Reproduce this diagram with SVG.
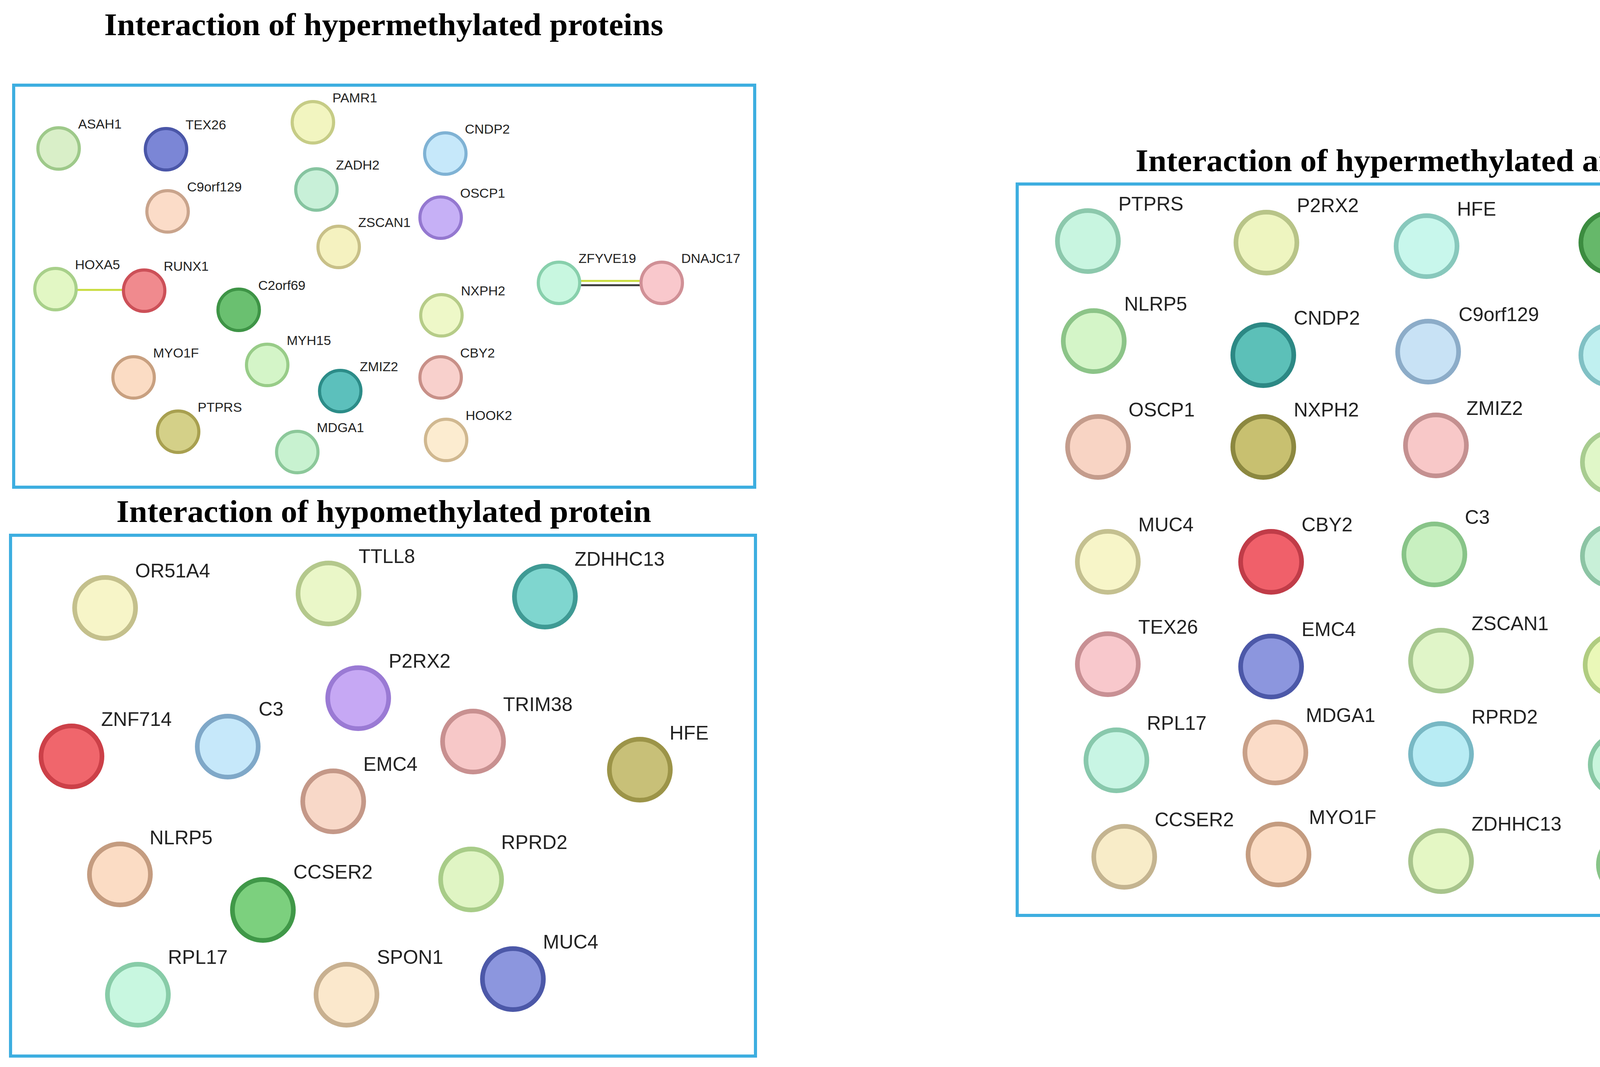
<svg xmlns="http://www.w3.org/2000/svg" width="5430" height="2731" viewBox="0 0 5430 2731">
<style>
.title{font-family:"Liberation Serif",serif;font-weight:bold;font-size:80px;fill:#000}
.box{fill:none;stroke:#3daee0;stroke-width:8}
.s{font-family:"Liberation Sans",Arial,sans-serif;font-size:34px;fill:#222}
.l{font-family:"Liberation Sans",Arial,sans-serif;font-size:50px;fill:#222}
.n1 circle{stroke-width:8}
.n2 circle{stroke-width:12}
.yg{stroke:#c8dc3c;fill:none}
.dk{stroke:#3a3a3a;fill:none}
</style>
<rect width="5430" height="2731" fill="#fff"/>
<text class="title" x="267" y="90" textLength="1431" lengthAdjust="spacingAndGlyphs">Interaction of hypermethylated proteins</text>
<text class="title" x="298" y="1336" textLength="1369" lengthAdjust="spacingAndGlyphs">Interaction of hypomethylated protein</text>
<text class="title" x="2907" y="438" textLength="2190" lengthAdjust="spacingAndGlyphs">Interaction of hypermethylated and hypomethylated proteins</text>
<rect class="box" x="35" y="218" width="1897" height="1029"/>
<rect class="box" x="27" y="1370" width="1907" height="1333"/>
<rect class="box" x="2604" y="471" width="2791" height="1872"/>
<g id="connectors">
<line class="yg" stroke-width="5" x1="195" y1="742" x2="316" y2="742"/>
<line class="yg" stroke-width="5" x1="1484" y1="719" x2="1641" y2="719"/>
<line class="dk" stroke-width="5" x1="1484" y1="730" x2="1641" y2="730"/>
<line class="yg" stroke-width="6" x1="4681" y1="1738" x2="4948" y2="1733"/>
<line class="yg" stroke-width="6" x1="4692" y1="2030" x2="4972" y2="2022"/>
<line class="dk" stroke-width="6" x1="4692" y1="2043" x2="4972" y2="2035"/>
</g>
<g id="hyper">
<g id="h-ASAH1" class="n1"><circle cx="150" cy="380" r="53" fill="#d9efc8" stroke="#9ec98a"/><text class="s" x="200" y="329">ASAH1</text></g>
<g id="h-TEX26" class="n1"><circle cx="425" cy="382" r="53" fill="#7b86d6" stroke="#4a56a8"/><text class="s" x="475" y="331">TEX26</text></g>
<g id="h-PAMR1" class="n1"><circle cx="801" cy="313" r="53" fill="#f2f5c0" stroke="#c6cc86"/><text class="s" x="851" y="262">PAMR1</text></g>
<g id="h-CNDP2" class="n1"><circle cx="1140" cy="393" r="53" fill="#c6e8fa" stroke="#7fb2d4"/><text class="s" x="1190" y="342">CNDP2</text></g>
<g id="h-ZADH2" class="n1"><circle cx="810" cy="485" r="53" fill="#c8f0d8" stroke="#86c4a0"/><text class="s" x="860" y="434">ZADH2</text></g>
<g id="h-C9orf129" class="n1"><circle cx="429" cy="541" r="53" fill="#fbdcc8" stroke="#c9a48c"/><text class="s" x="479" y="490">C9orf129</text></g>
<g id="h-OSCP1" class="n1"><circle cx="1128" cy="557" r="53" fill="#c6b0f6" stroke="#9478d0"/><text class="s" x="1178" y="506">OSCP1</text></g>
<g id="h-ZSCAN1" class="n1"><circle cx="867" cy="632" r="53" fill="#f5f2c0" stroke="#c8c088"/><text class="s" x="917" y="581">ZSCAN1</text></g>
<g id="h-HOXA5" class="n1"><circle cx="142" cy="740" r="53" fill="#e2f7c4" stroke="#a8d08a"/><text class="s" x="192" y="689">HOXA5</text></g>
<g id="h-RUNX1" class="n1"><circle cx="369" cy="744" r="53" fill="#f08a8e" stroke="#cc5058"/><text class="s" x="419" y="693">RUNX1</text></g>
<g id="h-C2orf69" class="n1"><circle cx="611" cy="793" r="53" fill="#6ac070" stroke="#3e9446"/><text class="s" x="661" y="742">C2orf69</text></g>
<g id="h-ZFYVE19" class="n1"><circle cx="1431" cy="724" r="53" fill="#c8f7e0" stroke="#88d0ac"/><text class="s" x="1481" y="673">ZFYVE19</text></g>
<g id="h-DNAJC17" class="n1"><circle cx="1694" cy="724" r="53" fill="#f9c8cc" stroke="#d09096"/><text class="s" x="1744" y="673">DNAJC17</text></g>
<g id="h-NXPH2" class="n1"><circle cx="1130" cy="807" r="53" fill="#eef8c8" stroke="#b6cc88"/><text class="s" x="1180" y="756">NXPH2</text></g>
<g id="h-MYO1F" class="n1"><circle cx="342" cy="966" r="53" fill="#fbdcc4" stroke="#c8a080"/><text class="s" x="392" y="915">MYO1F</text></g>
<g id="h-MYH15" class="n1"><circle cx="684" cy="934" r="53" fill="#d4f5c8" stroke="#98cc88"/><text class="s" x="734" y="883">MYH15</text></g>
<g id="h-ZMIZ2" class="n1"><circle cx="871" cy="1001" r="53" fill="#5cc0bc" stroke="#2c8c88"/><text class="s" x="921" y="950">ZMIZ2</text></g>
<g id="h-CBY2" class="n1"><circle cx="1128" cy="966" r="53" fill="#f8d0cc" stroke="#c89088"/><text class="s" x="1178" y="915">CBY2</text></g>
<g id="h-PTPRS" class="n1"><circle cx="456" cy="1105" r="53" fill="#d4d088" stroke="#a8a050"/><text class="s" x="506" y="1054">PTPRS</text></g>
<g id="h-MDGA1" class="n1"><circle cx="761" cy="1157" r="53" fill="#c8f2d0" stroke="#8cc89a"/><text class="s" x="811" y="1106">MDGA1</text></g>
<g id="h-HOOK2" class="n1"><circle cx="1142" cy="1126" r="53" fill="#fcecd0" stroke="#d0b890"/><text class="s" x="1192" y="1075">HOOK2</text></g>
</g>
<g id="hypo">
<g id="o-OR51A4" class="n2"><circle cx="269" cy="1556" r="78" fill="#f7f5c8" stroke="#c4c08c"/><text class="l" x="346" y="1478">OR51A4</text></g>
<g id="o-TTLL8" class="n2"><circle cx="841" cy="1519" r="78" fill="#eaf7c8" stroke="#b4c88c"/><text class="l" x="918" y="1441">TTLL8</text></g>
<g id="o-ZDHHC13" class="n2"><circle cx="1395" cy="1527" r="78" fill="#7fd6cf" stroke="#3f9a94"/><text class="l" x="1471" y="1448">ZDHHC13</text></g>
<g id="o-P2RX2" class="n2"><circle cx="917" cy="1787" r="78" fill="#c6a8f4" stroke="#9a7ad4"/><text class="l" x="995" y="1709">P2RX2</text></g>
<g id="o-ZNF714" class="n2"><circle cx="183" cy="1936" r="78" fill="#f0666c" stroke="#cc4048"/><text class="l" x="259" y="1858">ZNF714</text></g>
<g id="o-C3" class="n2"><circle cx="583" cy="1911" r="78" fill="#c6e8fa" stroke="#7fa8c8"/><text class="l" x="662" y="1832">C3</text></g>
<g id="o-TRIM38" class="n2"><circle cx="1211" cy="1898" r="78" fill="#f7c8c8" stroke="#c89090"/><text class="l" x="1288" y="1820">TRIM38</text></g>
<g id="o-HFE" class="n2"><circle cx="1638" cy="1970" r="78" fill="#c8c078" stroke="#9c9448"/><text class="l" x="1714" y="1893">HFE</text></g>
<g id="o-EMC4" class="n2"><circle cx="853" cy="2051" r="78" fill="#f8d8c8" stroke="#c49888"/><text class="l" x="930" y="1973">EMC4</text></g>
<g id="o-NLRP5" class="n2"><circle cx="307" cy="2238" r="78" fill="#fbdcc4" stroke="#c49c80"/><text class="l" x="383" y="2161">NLRP5</text></g>
<g id="o-RPRD2" class="n2"><circle cx="1206" cy="2251" r="78" fill="#e0f5c4" stroke="#a8cc88"/><text class="l" x="1283" y="2173">RPRD2</text></g>
<g id="o-CCSER2" class="n2"><circle cx="673" cy="2329" r="78" fill="#7cd07e" stroke="#409848"/><text class="l" x="751" y="2249">CCSER2</text></g>
<g id="o-RPL17" class="n2"><circle cx="353" cy="2546" r="78" fill="#c8f7e0" stroke="#88cca8"/><text class="l" x="430" y="2467">RPL17</text></g>
<g id="o-SPON1" class="n2"><circle cx="887" cy="2546" r="78" fill="#fbe8cc" stroke="#c8b090"/><text class="l" x="965" y="2467">SPON1</text></g>
<g id="o-MUC4" class="n2"><circle cx="1313" cy="2506" r="78" fill="#8c96de" stroke="#4c58a8"/><text class="l" x="1390" y="2428">MUC4</text></g>
</g>
<g id="both">
<g id="b-PTPRS" class="n2"><circle cx="2785" cy="617" r="78" fill="#c8f5e0" stroke="#8cc8ac"/><text class="l" x="2863" y="539">PTPRS</text></g>
<g id="b-P2RX2" class="n2"><circle cx="3242" cy="621" r="78" fill="#eef5c0" stroke="#b8c488"/><text class="l" x="3320" y="543">P2RX2</text></g>
<g id="b-HFE" class="n2"><circle cx="3652" cy="630" r="78" fill="#c8f7ec" stroke="#88c8bc"/><text class="l" x="3730" y="552">HFE</text></g>
<g id="b-SPON1" class="n2"><circle cx="4125" cy="621" r="78" fill="#66b86a" stroke="#3c8c40"/><text class="l" x="4203" y="543">SPON1</text></g>
<g id="b-HOOK2" class="n2"><circle cx="4543" cy="641" r="78" fill="#f8d0c0" stroke="#c89a8a"/><text class="l" x="4621" y="563">HOOK2</text></g>
<g id="b-NLRP5" class="n2"><circle cx="2800" cy="873" r="78" fill="#d4f5c8" stroke="#8cc488"/><text class="l" x="2878" y="795">NLRP5</text></g>
<g id="b-CNDP2" class="n2"><circle cx="3234" cy="909" r="78" fill="#5cc0b8" stroke="#2c8884"/><text class="l" x="3312" y="831">CNDP2</text></g>
<g id="b-C9orf129" class="n2"><circle cx="3656" cy="900" r="78" fill="#c8e2f5" stroke="#8cacc8"/><text class="l" x="3734" y="822">C9orf129</text></g>
<g id="b-ASAH1" class="n2"><circle cx="4125" cy="909" r="78" fill="#c0f0f0" stroke="#80c0c4"/><text class="l" x="4203" y="831">ASAH1</text></g>
<g id="b-ZNF714" class="n2"><circle cx="4538" cy="889" r="78" fill="#f8e4c8" stroke="#c8b090"/><text class="l" x="4616" y="811">ZNF714</text></g>
<g id="b-OSCP1" class="n2"><circle cx="2811" cy="1144" r="78" fill="#f8d4c4" stroke="#c49c8c"/><text class="l" x="2889" y="1066">OSCP1</text></g>
<g id="b-NXPH2" class="n2"><circle cx="3234" cy="1144" r="78" fill="#c8c070" stroke="#8c8840"/><text class="l" x="3312" y="1066">NXPH2</text></g>
<g id="b-ZMIZ2" class="n2"><circle cx="3676" cy="1140" r="78" fill="#f8c8c8" stroke="#c49090"/><text class="l" x="3754" y="1062">ZMIZ2</text></g>
<g id="b-C2orf69" class="n2"><circle cx="4129" cy="1183" r="78" fill="#e0f7c8" stroke="#a8cc90"/><text class="l" x="4207" y="1105">C2orf69</text></g>
<g id="b-TTLL8" class="n2"><circle cx="4556" cy="1170" r="78" fill="#dcf5c4" stroke="#a0c888"/><text class="l" x="4634" y="1092">TTLL8</text></g>
<g id="b-MUC4" class="n2"><circle cx="2836" cy="1438" r="78" fill="#f7f5c8" stroke="#c4c090"/><text class="l" x="2914" y="1360">MUC4</text></g>
<g id="b-CBY2" class="n2"><circle cx="3254" cy="1438" r="78" fill="#f0606a" stroke="#c03c48"/><text class="l" x="3332" y="1360">CBY2</text></g>
<g id="b-C3" class="n2"><circle cx="3672" cy="1419" r="78" fill="#c8f0c0" stroke="#88c488"/><text class="l" x="3750" y="1341">C3</text></g>
<g id="b-ZADH2" class="n2"><circle cx="4129" cy="1423" r="78" fill="#c8f0d8" stroke="#8cc4a4"/><text class="l" x="4207" y="1345">ZADH2</text></g>
<g id="b-PAMR1" class="n2"><circle cx="4556" cy="1423" r="78" fill="#c8f5d4" stroke="#8cc89c"/><text class="l" x="4634" y="1345">PAMR1</text></g>
<g id="b-TEX26" class="n2"><circle cx="2836" cy="1700" r="78" fill="#f8c8cc" stroke="#c89094"/><text class="l" x="2914" y="1622">TEX26</text></g>
<g id="b-EMC4" class="n2"><circle cx="3254" cy="1706" r="78" fill="#8c96de" stroke="#4c58a8"/><text class="l" x="3332" y="1628">EMC4</text></g>
<g id="b-ZSCAN1" class="n2"><circle cx="3689" cy="1691" r="78" fill="#e0f5c8" stroke="#a8c890"/><text class="l" x="3767" y="1613">ZSCAN1</text></g>
<g id="b-MYH15" class="n2"><circle cx="4136" cy="1702" r="78" fill="#eaf8b8" stroke="#b0cc80"/><text class="l" x="4214" y="1624">MYH15</text></g>
<g id="b-RUNX1" class="n2"><circle cx="4601" cy="1739" r="78" fill="#c4a8f4" stroke="#9478cc"/><text class="l" x="4679" y="1661">RUNX1</text></g>
<g id="b-HOXA5" class="n2"><circle cx="5028" cy="1732" r="78" fill="#f8f0c8" stroke="#c8bc8c"/><text class="l" x="5106" y="1654">HOXA5</text></g>
<g id="b-RPL17" class="n2"><circle cx="2858" cy="1946" r="78" fill="#c8f5e4" stroke="#88c8ac"/><text class="l" x="2936" y="1868">RPL17</text></g>
<g id="b-MDGA1" class="n2"><circle cx="3265" cy="1926" r="78" fill="#fbdcc8" stroke="#c8a088"/><text class="l" x="3343" y="1848">MDGA1</text></g>
<g id="b-RPRD2" class="n2"><circle cx="3689" cy="1930" r="78" fill="#b8ecf4" stroke="#78b8c4"/><text class="l" x="3767" y="1852">RPRD2</text></g>
<g id="b-TRIM38" class="n2"><circle cx="4149" cy="1957" r="78" fill="#c8f5dc" stroke="#88c8a4"/><text class="l" x="4227" y="1879">TRIM38</text></g>
<g id="b-ZFYVE19" class="n2"><circle cx="4612" cy="2036" r="78" fill="#c4e4f8" stroke="#7ca8c8"/><text class="l" x="4690" y="1958">ZFYVE19</text></g>
<g id="b-DNAJC17" class="n2"><circle cx="5052" cy="2026" r="78" fill="#c8e8f5" stroke="#84b4c8"/><text class="l" x="5130" y="1948">DNAJC17</text></g>
<g id="b-CCSER2" class="n2"><circle cx="2878" cy="2193" r="78" fill="#f8ecc8" stroke="#c4b490"/><text class="l" x="2956" y="2115">CCSER2</text></g>
<g id="b-MYO1F" class="n2"><circle cx="3273" cy="2187" r="78" fill="#fbdcc4" stroke="#c49c80"/><text class="l" x="3351" y="2109">MYO1F</text></g>
<g id="b-ZDHHC13" class="n2"><circle cx="3689" cy="2204" r="78" fill="#e4f7c4" stroke="#a8c48c"/><text class="l" x="3767" y="2126">ZDHHC13</text></g>
<g id="b-OR51A4" class="n2"><circle cx="4170" cy="2213" r="78" fill="#c8f0c8" stroke="#88c488"/><text class="l" x="4248" y="2135">OR51A4</text></g>
</g>
</svg>
